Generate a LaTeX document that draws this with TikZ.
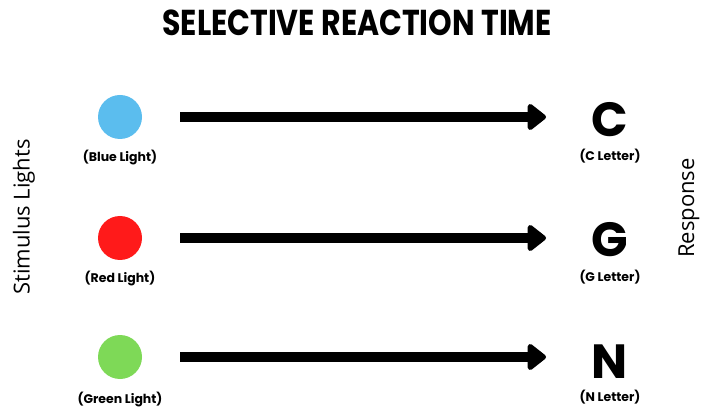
\documentclass[tikz,border=0pt]{standalone}
\usepackage{fontspec}
\setmainfont{Poppins}
\newfontfamily\sidefont{Open Sans}
\usetikzlibrary{arrows.meta}
\definecolor{lightblue}{HTML}{5BBDEE}
\definecolor{lightred}{HTML}{FF1A1A}
\definecolor{lightgreen}{HTML}{7ED957}
\tikzset{
  lamp/.style={circle, minimum size=44pt, inner sep=0pt},
  caption/.style={font=\fontsize{12.5}{13}\selectfont\bfseries, inner sep=0pt},
  letter/.style={font=\fontsize{48}{48}\selectfont\bfseries, inner sep=0pt, text height=34pt, text depth=0pt},
  side/.style={font=\sidefont\fontsize{22}{22}\selectfont, inner sep=0pt, rotate=90},
  go/.style={line width=10pt, -{Triangle[round, length=20pt, width=30pt]}}
}
\begin{document}
\begin{tikzpicture}[x=1pt, y=-1pt]
	\useasboundingbox (0,0) rectangle (703,411);
	\node[font=\fontsize{30}{30}\selectfont\bfseries, inner sep=0pt, yscale=1.2] (title) at (357,23) {SELECTIVE REACTION TIME};
	% lights
	\node[lamp, fill=lightblue] (blue) at (120,117) {};
	\node[lamp, fill=lightred] (red) at (120,238) {};
	\node[lamp, fill=lightgreen] (green) at (120,357) {};
	\node[caption] (bluecap) at (120,158) {(Blue Light)};
	\node[caption] (redcap) at (120,279) {(Red Light)};
	\node[caption] (greencap) at (120,400) {(Green Light)};
	% responses
	\node[letter] (c) at (610,120) {C};
	\node[letter] (g) at (610,240) {G};
	\node[letter] (n) at (610,361) {N};
	\node[caption] (ccap) at (610,156) {(C Letter)};
	\node[caption] (gcap) at (610,277) {(G Letter)};
	\node[caption] (ncap) at (610,397) {(N Letter)};
	% arrows
	\coordinate (b1) at (180,117); \coordinate (b2) at (546,117);
	\coordinate (r1) at (180,238); \coordinate (r2) at (546,238);
	\coordinate (g1) at (180,357); \coordinate (g2) at (546,357);
	\draw[go] (b1) -- (b2);
	\draw[go] (r1) -- (r2);
	\draw[go] (g1) -- (g2);
	% side labels
	\node[side] (stim) at (24,217) {Stimulus Lights};
	\node[side] (resp) at (689,208) {Response};
\end{tikzpicture}
\end{document}
